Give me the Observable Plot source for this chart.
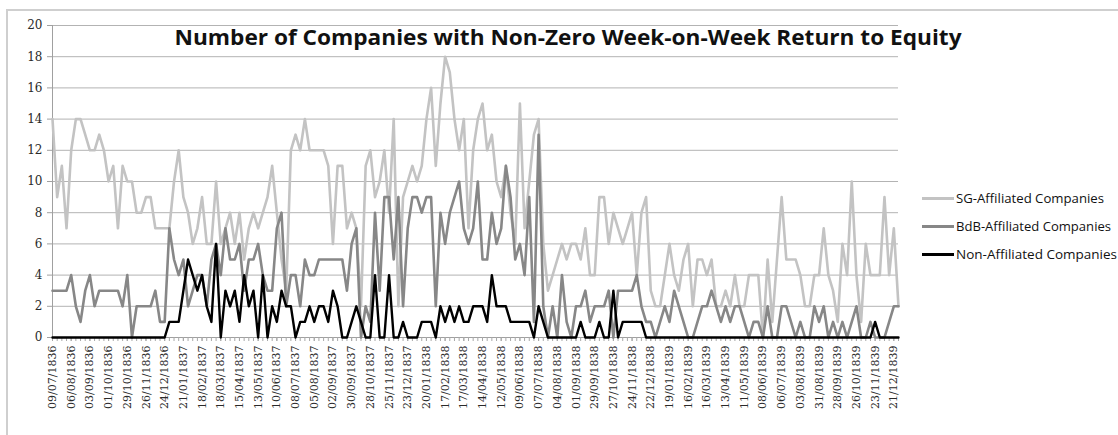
<!DOCTYPE html>
<html>
<head>
<meta charset="utf-8">
<script src="https://cdn.jsdelivr.net/npm/d3@7"></script>
<script src="https://cdn.jsdelivr.net/npm/@observablehq/plot@0.6"></script>
<style>
  html, body { margin: 0; padding: 0; background: #fff; }
  #wrap { position: relative; width: 1118px; height: 435px; overflow: hidden; }
  #frame { position: absolute; left: 6px; top: 9px; width: 1140px; height: 460px; border: 2px solid #cfcfcf; box-sizing: border-box; }
  #chart { position: absolute; left: 0; top: 0; }
  #chart svg, #chart svg g, #chart svg text { font-family: "DejaVu Serif", "Liberation Serif", serif !important; }
  #title { position: absolute; left: 0; top: 27px; width: 1137px; text-align: center; white-space: nowrap;
           font-family: "Open Sans", sans-serif; font-weight: bold; font-size: 21px; line-height: 21px; color: #111; }
  #title span { display: inline-block; transform-origin: center; }
  .leg { position: absolute; left: 922px; height: 20px; font-family: "Open Sans", sans-serif; font-size: 13px; color: #111; white-space: nowrap; }
  .leg i { position: absolute; left: 0; top: 9px; width: 32px; height: 3px; }
  .leg span { position: absolute; left: 34px; top: 0; line-height: 20px; display: inline-block; transform-origin: left center; }
</style>
</head>
<body>
<div id="wrap">
  <div id="frame"></div>
  <div id="chart"></div>
  <div id="title"><span>Number of Companies with Non-Zero Week-on-Week Return to Equity</span></div>
  <div id="legend"></div>
</div>
<script>
// Tick labels shown every 4 weeks on the category axis
const tickLabels = ["09/07/1836","06/08/1836","03/09/1836","01/10/1836","29/10/1836","26/11/1836","24/12/1836",
  "21/01/1837","18/02/1837","18/03/1837","15/04/1837","13/05/1837","10/06/1837","08/07/1837","05/08/1837",
  "02/09/1837","30/09/1837","28/10/1837","25/11/1837","23/12/1837","20/01/1838","17/02/1838","17/03/1838",
  "14/04/1838","12/05/1838","09/06/1838","07/07/1838","04/08/1838","01/09/1838","29/09/1838","27/10/1838",
  "24/11/1838","22/12/1838","19/01/1839","16/02/1839","16/03/1839","13/04/1839","11/05/1839","08/06/1839",
  "06/07/1839","03/08/1839","31/08/1839","28/09/1839","26/10/1839","23/11/1839","21/12/1839"];

const seriesNames = ["SG-Affiliated Companies", "BdB-Affiliated Companies", "Non-Affiliated Companies"];
const seriesColors = ["#c3c3c3", "#878787", "#000000"];

// Weekly counts (182 weeks, 09/07/1836 - 28/12/1839)
const sg = [14,9,11,7,12,14,14,13,12,12, 13,12,10,11,7,11,10,10,8,8,
  9,9,7,7,7,7,10,12,9,8, 6,7,9,6,6,10,6,7,8,6,
  8,5,7,8,7,8,9,11,8,5, 3,12,13,12,14,12,12,12,12,11,
  6,11,11,7,8,7,2,11,12,9, 10,12,8,14,2,9,10,11,10,11,
  14,16,11,15,18,17,14,12,14,7, 12,14,15,12,13,10,9,11,8,6,
  15,7,10,13,14,6,3,4,5,6, 5,6,6,5,7,4,4,9,9,6,
  8,7,6,7,8,4,8,9,3,2, 2,4,6,4,3,5,6,2,5,5,
  4,5,2,2,3,2,4,2,2,4, 4,4,0,5,1,5,9,5,5,5,
  4,2,2,4,4,7,4,3,1,6, 4,10,4,1,6,4,4,4,9,4,
  7,2];
const bdb = [3,3,3,3,4,2,1,3,4,2, 3,3,3,3,3,2,4,0,2,2,
  2,2,3,1,1,7,5,4,5,2, 3,4,4,2,5,6,4,7,5,5,
  6,3,5,5,6,4,3,3,7,8, 2,4,4,2,5,4,4,5,5,5,
  5,5,5,3,6,7,0,2,1,8, 3,9,9,5,9,2,7,9,9,8,
  9,9,2,8,6,8,9,10,7,6, 7,10,5,5,8,6,7,11,9,5,
  6,4,9,1,13,2,0,2,0,4, 1,0,2,2,3,1,2,2,2,3,
  0,3,3,3,3,4,2,1,1,0, 1,2,1,3,2,1,0,0,1,2,
  2,3,2,1,2,1,2,2,1,0, 1,1,0,2,0,0,2,2,1,0,
  1,0,0,2,1,2,0,1,0,1, 0,1,2,0,0,1,0,0,0,1,
  2,2];
const non = [0,0,0,0,0,0,0,0,0,0, 0,0,0,0,0,0,0,0,0,0,
  0,0,0,0,0,1,1,1,3,5, 4,3,4,2,1,6,0,3,2,3,
  1,4,2,3,0,4,0,2,1,3, 2,2,0,1,1,2,1,2,2,1,
  3,2,0,0,1,2,1,0,0,4, 0,0,4,0,0,1,0,0,0,1,
  1,1,0,2,1,2,1,2,1,1, 2,2,2,1,4,2,2,2,1,1,
  1,1,1,0,2,1,0,0,0,0, 0,0,0,1,0,0,0,1,0,0,
  3,0,1,1,1,1,1,0,0,0, 0,0,0,0,0,0,0,0,0,0,
  0,0,0,0,0,0,0,0,0,0, 0,0,0,0,0,0,0,0,0,0,
  0,0,0,0,0,0,0,0,0,0, 0,0,0,0,0,0,1,0,0,0,
  0,0];

const yTicks = [0,2,4,6,8,10,12,14,16,18,20];
const weeks = sg.map((_, i) => i);           // category positions
const labelTicks = tickLabels.map((_, k) => k * 4);

const series = [sg, bdb, non];
const serif = "DejaVu Serif";

const chart = Plot.plot({
  width: 1118,
  height: 435,
  marginLeft: 52,
  marginRight: 220,
  marginTop: 25,
  marginBottom: 98,
  style: { background: "transparent", overflow: "visible", fontFamily: serif },
  x: { type: "linear", domain: [0, weeks.length - 1] },
  y: { domain: [0, 20] },
  marks: [
    Plot.gridY({ ticks: yTicks, stroke: "#b3b3b3", strokeOpacity: 1, strokeWidth: 1 }),
    Plot.ruleX([0], { stroke: "#a0a0a0", strokeWidth: 1 }),
    Plot.ruleY([0], { stroke: "#a0a0a0", strokeWidth: 1 }),
    Plot.axisY({ ticks: yTicks, tickSize: 5, tickPadding: 5, stroke: "#a0a0a0",
      fill: "#2a2a2a", fontSize: 12, fontFamily: serif, tickFormat: d => String(d) }),
    Plot.axisX({ ticks: weeks, tickSize: 4, stroke: "#a8a8a8", tickFormat: () => "" }),
    Plot.axisX({ ticks: labelTicks, tickSize: 4, tickPadding: 4, tickRotate: -90, stroke: "#a8a8a8",
      fill: "#2a2a2a", fontSize: 11, fontFamily: serif, tickFormat: d => tickLabels[d / 4] }),
    ...series.map((s, k) => Plot.line(weeks, {
      x: d => d, y: d => s[d], stroke: seriesColors[k],
      strokeWidth: k === 2 ? 2.4 : 2.6, strokeLinejoin: "round", strokeLinecap: "round"
    }))
  ]
});
document.getElementById("chart").appendChild(chart);

// Legend
const legend = document.getElementById("legend");
const legTops = [188, 216, 244];
seriesNames.forEach((name, k) => {
  const row = document.createElement("div");
  row.className = "leg";
  row.style.top = legTops[k] + "px";
  row.innerHTML = `<i style="background:${seriesColors[k]}"></i><span>${name}</span>`;
  legend.appendChild(row);
});
// fit text widths to the reference proportions
const t = document.querySelector("#title span");
const tw = t.getBoundingClientRect().width;
t.style.transform = `scaleX(${787 / tw})`;
document.querySelectorAll(".leg span").forEach((s, k) => {
  const target = [148, 155, 161][k];
  const w = s.getBoundingClientRect().width;
  s.style.transform = `scaleX(${target / w})`;
});
</script>
</body>
</html>
